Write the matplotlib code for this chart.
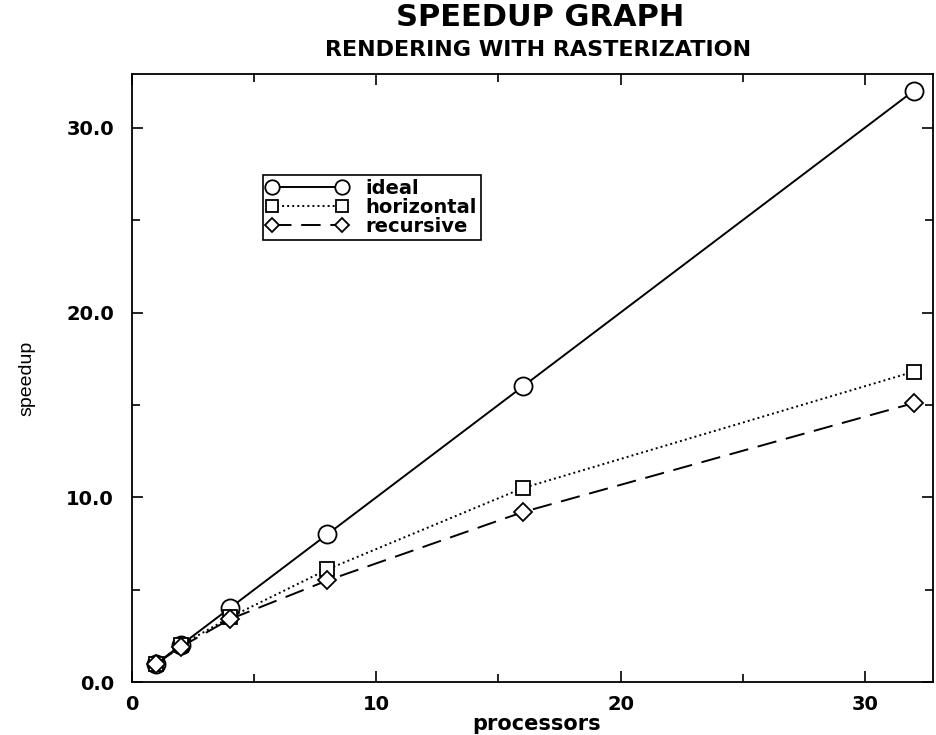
import matplotlib
matplotlib.use('Agg')
import matplotlib.pyplot as plt
from matplotlib.ticker import FormatStrFormatter

# 数据
processors = [1, 2, 4, 8, 16, 32]
ideal = [1, 2, 4, 8, 16, 32]
horizontal = [1, 2.0, 3.5, 6.1, 10.5, 16.8]
recursive = [1, 1.9, 3.4, 5.5, 9.2, 15.1]

plt.rcParams['font.family'] = ['DejaVu Sans']

fig = plt.figure(figsize=(9.36, 7.35), dpi=100)
ax = fig.add_axes([0.141, 0.072, 0.856, 0.827])

ax.plot(processors, ideal, 'k-', marker='o', mfc='white', ms=13, mew=1.3, lw=1.4, label='ideal')
ax.plot(processors, horizontal, 'k', ls=(0, (1, 1.6)), marker='s', mfc='white', ms=10, mew=1.3,
        lw=1.4, label='horizontal')
ax.plot(processors, recursive, 'k', ls=(0, (10, 5)), marker='D', mfc='white', ms=9, mew=1.3,
        lw=1.4, label='recursive')

ax.set_xlim(0, 32.8)
ax.set_ylim(0, 32.9)
ax.set_xticks([0, 10, 20, 30])
ax.set_xticks([5, 15, 25], minor=True)
ax.set_yticks([0, 10, 20, 30])
ax.set_yticks([5, 15, 25], minor=True)
ax.yaxis.set_major_formatter(FormatStrFormatter('%.1f'))
ax.tick_params(direction='in', top=True, right=True, which='both', width=1.2)
ax.tick_params(which='major', length=8)
ax.tick_params(which='minor', length=6)
ax.tick_params(axis='x', pad=9)
ax.tick_params(axis='y', pad=13)
for lab in ax.get_xticklabels() + ax.get_yticklabels():
    lab.set_fontsize(14)
    lab.set_fontweight('bold')
for s in ax.spines.values():
    s.set_linewidth(1.3)

ax.set_xlabel('processors', fontsize=15, fontweight='bold')
ax.xaxis.set_label_coords(0.505, -0.052)
ax.set_ylabel('speedup', fontsize=14, family='Liberation Sans')
ax.yaxis.set_label_coords(-0.12, 0.5)

fig.text(0.577, 0.976, 'SPEEDUP GRAPH', fontsize=22, fontweight='bold', ha='center', va='center')
fig.text(0.575, 0.932, 'RENDERING WITH RASTERIZATION', fontsize=16, fontweight='bold',
         ha='center', va='center')

leg = ax.legend(loc='upper left', bbox_to_anchor=(0.163, 0.834), numpoints=2,
                prop={'size': 14, 'weight': 'bold'}, markerscale=0.8,
                frameon=True, fancybox=False, edgecolor='black', framealpha=1,
                handlelength=4.2, handletextpad=0.9, borderpad=0.2, labelspacing=0.0,
                borderaxespad=0)
leg.get_frame().set_linewidth(1.2)

fig.savefig('out.png', dpi=100)
